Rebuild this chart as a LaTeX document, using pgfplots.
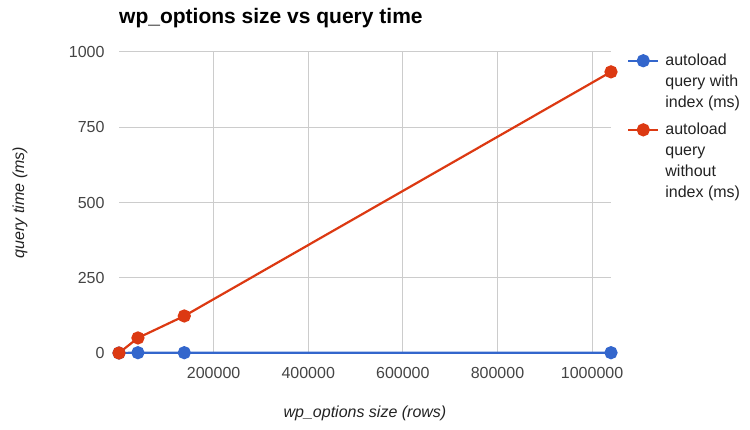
\documentclass[border=0pt]{standalone}
\usepackage{fontspec}
\setmainfont{Liberation Sans}
\usepackage{pgfplots}
\pgfplotsset{compat=1.18}
\definecolor{gblue}{HTML}{3366CC}
\definecolor{gred}{HTML}{DC3912}
\definecolor{ggrid}{HTML}{CCCCCC}
\definecolor{gtick}{HTML}{444444}
\definecolor{gtext}{HTML}{222222}
\begin{document}
\begin{tikzpicture}[x=1pt,y=1pt]
\useasboundingbox (0,0) rectangle (750,430);
\begin{axis}[
  at={(119pt,77pt)}, anchor=south west,
  scale only axis, width=492pt, height=301pt,
  xmin=0, xmax=1040000, ymin=0, ymax=1000,
  xtick={200000,400000,600000,800000,1000000},
  xticklabels={200000,400000,600000,800000,1000000},
  ytick={0,250,500,750,1000},
  yticklabels={0,250,500,750,1000},
  scaled x ticks=false,
  grid=major, major grid style={ggrid, line width=1pt},
  axis line style={draw=none}, tick style={draw=none},
  ticklabel style={font=\fontsize{16}{19}\selectfont, text=gtick},
  yticklabel style={xshift=-11pt},
  xticklabel style={yshift=-11pt},
  clip=false,
  title={wp\_options size vs query time},
  title style={at={(axis description cs:0,1.075)}, anchor=base west, inner sep=0pt, font=\bfseries\fontsize{21}{24}\selectfont, text=black},
  xlabel={wp\_options size (rows)},
  xlabel style={at={(axis description cs:0.5,-0.2)}, anchor=center, font=\itshape\fontsize{16}{19}\selectfont, text=gtext},
  ylabel={query time (ms)},
  ylabel style={at={(axis description cs:-0.2012,0.5)}, anchor=center, font=\itshape\fontsize{16}{19}\selectfont, text=gtext},
  legend style={at={(axis description cs:1.0325,1.0)}, anchor=north west, draw=none, fill=none,
    font=\fontsize{16}{21}\selectfont, text=gtext, inner sep=0pt, row sep=10pt, column sep=4pt,
    cells={align=left}},
  legend cell align=left,
  legend image code/.code={\draw[mark repeat=2,mark phase=2,#1] plot coordinates {(0pt,0pt)(15pt,0pt)(30pt,0pt)};},
]
\addplot[gblue, line width=2.2pt, mark=*, mark size=5.5pt, mark options={fill=gblue, draw=gblue},
  legend image post style={yshift=21pt}]
  coordinates {(0,0) (40000,1) (138000,1) (1040000,1)};
\addlegendentry{autoload\\query with\\index (ms)}
\addplot[gred, line width=2.2pt, mark=*, mark size=5.5pt, mark options={fill=gred, draw=gred},
  legend image post style={yshift=31.5pt}]
  coordinates {(0,0) (40000,50) (138000,123) (1040000,934)};
\addlegendentry{autoload\\query\\without\\index (ms)}
\end{axis}
\end{tikzpicture}
\end{document}
